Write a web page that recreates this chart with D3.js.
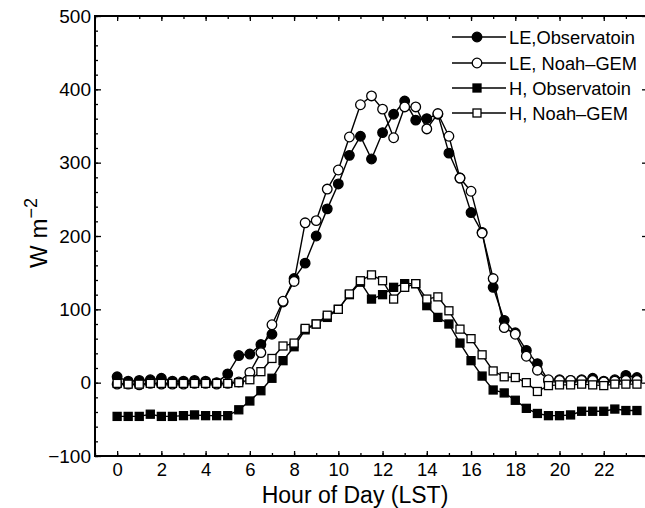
<!DOCTYPE html>
<html><head><meta charset="utf-8">
<script src="https://cdn.jsdelivr.net/npm/d3@7"></script>
<style>body{margin:0;background:#fff}svg{display:block}text{font-family:"Liberation Sans",Arial,Helvetica,sans-serif}</style>
</head><body>
<svg id="c" width="645" height="508"></svg>
<script>
const hours = d3.range(0, 24, 0.5);
const leObs = [8,2,3,4,6,2,2,3,2,0,12,37,39,52,66,110,142,163,200,237,271,310,336,305,341,366,384,358,360,366,313,279,232,205,130,85,68,44,26,3,4,3,4,6,2,4,10,7];
const leNoah = [-2,-2,-3,-1,-2,-2,-2,-1,-1,-2,-1,1,14,41,79,111,138,218,221,264,290,335,379,391,373,334,376,376,346,367,336,279,261,204,142,75,66,36,17,4,3,3,3,3,1,2,3,3];
const hObs = [-46,-46,-46,-43,-46,-46,-45,-44,-45,-45,-45,-37,-25,-11,6,30,49,72,80,89,100,120,137,114,120,130,135,135,105,89,80,54,30,9,-10,-14,-24,-35,-42,-45,-45,-44,-39,-39,-39,-36,-38,-38];
const hNoah = [-1,-2,-2,-1,-1,-1,-1,-1,-1,-1,-1,0,4,15,33,50,54,74,80,92,100,121,139,147,139,114,130,135,114,117,98,73,60,38,16,8,7,0,-12,-4,-3,-3,-2,-3,-4,-2,-2,-2];
const seriesNames = ["LE,Observatoin","LE, Noah\u2013GEM","H, Observatoin","H, Noah\u2013GEM"];
const xMajor = d3.range(0, 23, 2);
const xMinor = d3.range(-1, 25, 1);
const yMajor = d3.range(-100, 501, 100);
const yMinor = d3.range(-100, 501, 20);

const series = [
  {name: seriesNames[0], values: leObs, shape: "circle", fill: "#000"},
  {name: seriesNames[1], values: leNoah, shape: "circle", fill: "#fff"},
  {name: seriesNames[2], values: hObs, shape: "square", fill: "#000"},
  {name: seriesNames[3], values: hNoah, shape: "square", fill: "#fff"}
];

const svg = d3.select("#c");
const L = 95, R = 648, T = 16, B = 456;
const x = d3.scaleLinear().domain([-1, 24]).range([L, R]);
const y = d3.scaleLinear().domain([-100, 500]).range([B, T]);

function styleAxis(g){ g.select(".domain").remove(); g.selectAll("line").attr("stroke","#000").attr("stroke-width",1.3); }
svg.append("g").attr("transform",`translate(0,${B})`)
  .call(d3.axisBottom(x).tickValues(xMinor).tickSize(-3).tickFormat(""))
  .call(styleAxis);
svg.append("g").attr("transform",`translate(0,${B})`)
  .call(d3.axisBottom(x).tickValues(xMajor).tickSize(-5).tickPadding(7).tickFormat(d3.format("d")))
  .call(styleAxis)
  .selectAll("text").attr("font-size",18.5).attr("fill","#000");
svg.append("g").attr("transform",`translate(0,${T})`)
  .call(d3.axisTop(x).tickValues(xMinor).tickSize(-3).tickFormat("")).call(styleAxis);
svg.append("g").attr("transform",`translate(0,${T})`)
  .call(d3.axisTop(x).tickValues(xMajor).tickSize(-5).tickFormat("")).call(styleAxis);
svg.append("g").attr("transform",`translate(${L},0)`)
  .call(d3.axisLeft(y).tickValues(yMinor).tickSize(-3).tickFormat("")).call(styleAxis);
svg.append("g").attr("transform",`translate(${L},0)`)
  .call(d3.axisLeft(y).tickValues(yMajor).tickSize(-6).tickPadding(4).tickFormat(d => d < 0 ? "\u2212" + Math.abs(d) : d))
  .call(styleAxis)
  .selectAll("text").attr("font-size",19).attr("fill","#000");
svg.append("g").attr("transform",`translate(${R},0)`)
  .call(d3.axisRight(y).tickValues(yMinor).tickSize(-3).tickFormat("")).call(styleAxis);
svg.append("g").attr("transform",`translate(${R},0)`)
  .call(d3.axisRight(y).tickValues(yMajor).tickSize(-6).tickFormat("")).call(styleAxis);

svg.append("rect").attr("x",L).attr("y",T).attr("width",R-L).attr("height",B-T)
  .attr("fill","none").attr("stroke","#000").attr("stroke-width",2);

const line = d3.line().x((d,i) => x(hours[i])).y(d => y(d));
function drawMarker(g, shape, fill, cx, cy){
  if(shape === "circle"){
    g.append("circle").attr("cx",cx).attr("cy",cy).attr("r",4.8)
      .attr("fill",fill).attr("stroke","#000").attr("stroke-width",1.3);
  } else {
    g.append("rect").attr("x",cx-4).attr("y",cy-4).attr("width",8).attr("height",8)
      .attr("fill",fill).attr("stroke","#000").attr("stroke-width",1.3);
  }
}
series.forEach(s => {
  const g = svg.append("g");
  g.append("path").datum(s.values).attr("d",line).attr("fill","none").attr("stroke","#000").attr("stroke-width",1.4);
  s.values.forEach((v,i) => drawMarker(g, s.shape, s.fill, x(hours[i]), y(v)));
});

const lg = svg.append("g");
const legY = [37, 63, 88, 113];
series.forEach((s,i) => {
  lg.append("line").attr("x1",452).attr("x2",506).attr("y1",legY[i]).attr("y2",legY[i]).attr("stroke","#000").attr("stroke-width",1.4);
  drawMarker(lg, s.shape, s.fill, 477, legY[i]);
  lg.append("text").attr("x",509).attr("y",legY[i]).attr("dy","0.36em").attr("font-size",18.3).text(s.name);
});

svg.append("text").attr("x",355).attr("y",503).attr("text-anchor","middle").attr("font-size",23).text("Hour of Day (LST)");
const yt = svg.append("text").attr("transform","translate(47,233) rotate(-90)").attr("text-anchor","middle").attr("font-size",24);
yt.append("tspan").text("W m");
yt.append("tspan").attr("dy",-10).attr("font-size",18).text("\u22122");
</script>
</body></html>
